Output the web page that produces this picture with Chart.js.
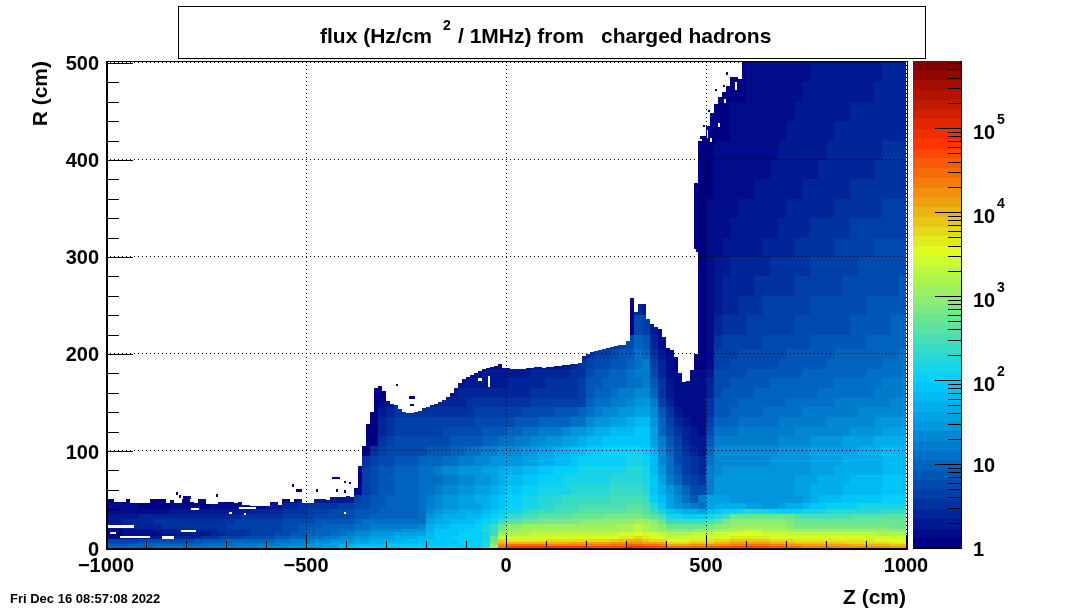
<!DOCTYPE html>
<html>
<head>
<meta charset="utf-8">
<title>flux from charged hadrons</title>
<script src="https://cdn.jsdelivr.net/npm/chart.js@4/dist/chart.umd.min.js"></script>
<style>
  body { margin: 0; background: #fff; }
  canvas { display: block; }
</style>
</head>
<body>
<canvas id="fluxChart" width="1068" height="610"></canvas>
<script>
// Z columns: 20 cm wide, starting at zStart. Each group of ten chars spans 200 cm.
const zStart = -1000;
const zStep = 20;

// lower edge of every R row, last entry closes the top row
const rEdges = [0, 2, 4, 6, 9, 12, 16, 20, 25, 30, 35, 40, 46, 55, 65, 75, 85, 95, 105, 115, 125, 135, 145, 155, 165, 175, 185, 195, 205, 220, 240, 260, 280, 300, 320, 340, 360, 380, 400, 420, 440, 460, 480, 502];

// flux level per cell (one of the 50 palette levels), bottom row first, '.' = no entry
const levelChars = '0123456789abcdefghijklmnopqrstuvwxyzABCDEFGHIJKLMN';
const fluxRows = [
  '8888889999 999aaaaaab bbbccccdde fgggggghhh hhhhhhhjqC EFFFFFFFFF EEEEEFFFEE CCCCCDDEEE EEEDDCCBBB BBAAAAAAzz',
  '7778888888 8899999aaa aabbbccdde efffgggggg ggghhhhjpA CCCCCBBBBB BBBCCDDCCB zzzAAAAABB CCCBBAAzzz zzzyyyyyxx',
  '6666777777 7788889999 9aaabbccdd deeeeffffg gggghhhjoy yyyyyyyyzz zzzAAAAzzz wwwxxxyyzz zzzyyyxxxx xxwwwwwwvv',
  '5555666666 6777788888 899aaabbcc cddeeeefff gggghhhinw vvvvvwwwww wwwxxyyxww uuuvvvwwxx xxxwwwvvvv vvvvvvuuuu',
  '1111222233 3344555666 6778899aab bccdddeeef fgghhhhint ttttuuuuuu uuuuvvwvuu ssttttuuvv vvvuuuuuuu uuuuuttttt',
  '0011111222 2223344455 5667788899 abbcccdddd fggghhhikq rrrsssssss ssssttutts rrrsssttuu uutttsssss ssssssrrrr',
  '0011112223 3333444455 5566778889 9aabbbbccc egggghhjko qqrrrrrrrr rrrrrrsrqq ppppqqrrrs ssrrrrqqqq qqqqqqqqpp',
  '2233333444 4444455555 5566777888 899aaaaaab effggghikn ppqqqqqqqq qqqqrrsrqp nnnnnoppqq qqqqqpoooo oooooooonn',
  '2233334444 4444445555 5566667777 7899999999 deefffghik mmnnooooop ppppppqqpn kkkkklmopp ppppponnnn nnnnnnnnnn',
  '2222333333 3333333444 4455556666 6778888889 cdeeeffghi kkllmmmmnn nnooooonml iihhhijknn nnnnnnmlll lllmmmmmmm',
  '1111111122 2222222233 3344455566 6777888889 bcddeeefgh iijkkklllm mmmmmnnmki gfeedfghhi jiihhhhiii jjjjjjjkkk',
  '1111000011 0001111111 2233444445 5667788889 abccdddefg hhiijjkkkl lllllmmljg dcba9deeee ddccdeefgg hhhhiiiiii',
  '0000000000 0000000000 1111222222 2567788889 abccddeefg hhiijjjkkk kkkllllkhf db97adddcc cccccccdef ffggggghhh',
  '.......... .......... .......... 0156778889 9abbccddef gghhiiiijj jjjkkkkjge ca866acccc ccccccddee eefffffggg',
  '.......... .......... .......... 0056778889 99aabbccde ffgghhhiii iiijjjjigd a8654acccc ccccccddde eeeffffggg',
  '.......... .......... .......... 0056778889 9abbcccdde eeffgghhhi iiiiijjifc 97543abccc ccccccccdd deeeeeefff',
  '.......... .......... .......... 0045667778 8899aabbcc ccddeeffgh hhhhhiihfb 965439bbbb bbbcccccdd ddeeeeefff',
  '.......... .......... .......... 0004566666 7778899aab bbccddeeff gghhhhhgeb 864328bbbb bbbbccccdd ddddeeefff',
  '.......... .......... .......... 0000456666 6667777889 9aabbccdde ffggggggda 753227aaaa aaaabbbbcc ccddddeeee',
  '.......... .......... .......... 0000345555 5566666777 8899aaabcc deefffggd8 643216999a aaaaaabbbb bbbccccddd',
  '.......... .......... .......... 0000345555 5555556666 6777888899 bccddeffc8 5321158889 9999aaaaaa bbbbbbcccc',
  '.......... .......... .......... 0000234444 4444445555 5566667778 9abbccddb7 4211147788 8899999aaa aaaabbbbbb',
  '.......... .......... .......... 0000123333 3333344444 4445555555 899aabcca5 3111147778 8888899999 9aaaaaaabb',
  '.......... .......... .......... 0000012222 2222333333 3334444445 7889aabb84 2111136777 7888888889 999999aaaa',
  '.......... .......... .......... 0000011111 1122222222 3333344445 7788899a74 2111136677 7778888888 8999999aaa',
  '.......... .......... .......... 0000000000 0011111222 2223333344 677889aa63 1111126666 7777777888 8888899999',
  '.......... .......... .......... 0000000000 0000001111 1112222234 5667789a53 1000015566 6666777777 8888888999',
  '.......... .......... .......... 0000000000 0000000000 0001111113 4556779842 1000015556 6666677777 7888888889',
  '.......... .......... .......... .......... .......... .......... 2334568731 0000014555 5566666677 7777788888',
  '.......... .......... .......... .......... .......... .......... 0000006521 0000013444 5555556666 6667777788',
  '.......... .......... .......... .......... .......... .......... 0000003200 0000012334 4455555566 6666677777',
  '.......... .......... .......... .......... .......... .......... .......... 0000012333 3444445555 5566666667',
  '.......... .......... .......... .......... .......... .......... .......... 0000012233 3334444455 5555666666',
  '.......... .......... .......... .......... .......... .......... .......... 0000011222 2233334444 4555556666',
  '.......... .......... .......... .......... .......... .......... .......... 0000011122 2222333344 4445555555',
  '.......... .......... .......... .......... .......... .......... .......... 0000011112 2222233333 3444444555',
  '.......... .......... .......... .......... .......... .......... .......... 0000001111 1222222333 3334444444',
  '.......... .......... .......... .......... .......... .......... .......... 0000001111 1112222223 3333334444',
  '.......... .......... .......... .......... .......... .......... .......... 0000001111 1111222222 3333333444',
  '.......... .......... .......... .......... .......... .......... .......... 0000000011 1111122222 2333333333',
  '.......... .......... .......... .......... .......... .......... .......... 0000000011 1111112222 2223333333',
  '.......... .......... .......... .......... .......... .......... .......... 0000000000 1111111222 2222223333',
  '.......... .......... .......... .......... .......... .......... .......... 0000000000 1111111122 2222222333'
];

// highest R with an entry, one value per 10 cm of Z from -1000
const topStep = 10;
const topR = [
  51, 51, 47, 47, 47, 50, 46, 46, 46, 46,
  46, 50, 50, 50, 50, 46, 49, 46, 46, 51,
  51, 47, 46, 50, 50, 45, 45, 45, 47, 47,
  47, 47, 46, 47, 44, 44, 43, 43, 43, 43,
  43, 47, 47, 44, 51, 51, 47, 51, 51, 46,
  46, 46, 51, 51, 50, 49, 53, 53, 53, 53,
  54, 53, 62, 85, 105, 128, 140, 165, 167, 162,
  152, 148, 147, 143, 140, 139, 139, 140, 141, 144,
  145, 147, 148, 150, 153, 156, 160, 165, 170, 174,
  176, 178, 180, 182, 184, 186, 187, 188, 190, 186,
  186, 185, 184, 185, 185, 186, 186, 187, 187, 186,
  187, 187, 188, 188, 189, 189, 190, 190, 191, 198,
  200, 202, 203, 204, 205, 206, 207, 208, 209, 209,
  213, 258, 243, 252, 252, 236, 231, 228, 226, 218,
  206, 204, 197, 180, 171, 172, 183, 376, 420, 425,
  435, 448, 458, 465, 470, 476, 486, 486, 483, 502,
  502, 502, 502, 502, 502, 502, 502, 502, 502, 502,
  502, 502, 502, 502, 502, 502, 502, 502, 502, 502,
  502, 502, 502, 502, 502, 502, 502, 502, 502, 502,
  502, 502, 502, 502, 502, 502, 502, 502, 502, 502
];

// isolated low-flux bins above the edge
const strayZ = [-826, -817, -808, -803, -798, -793, -726, -534, -525, -520, -515, -475, -435, -430, -425, -420, -405, -392, -425, -405, -275, -243, -238, -233, -240, -235, 486, 492, 505, 522, 542, 550];
const strayR = [55, 52, 51, 51, 51, 51, 53, 63, 58, 58, 58, 58, 71, 71, 71, 71, 67, 66, 58, 57, 167, 154, 154, 154, 146, 146, 422, 434, 449, 471, 475, 488];

// empty gaps inside the filled region
const gapZ0 = [-1000, -990, -965, -860, -813, -788, -692, -667, -655, -405, -45, -70, 470, 475, 530, 545, 572, 510, 502];
const gapZ1 = [-930, -975, -890, -830, -776, -767, -685, -625, -650, -400, -40, -60, 475, 480, 535, 550, 577, 515, 506];
const gapR0 = [21, 14, 10, 9.5, 16, 39, 35, 40, 34, 35, 166, 172, 200, 200, 434, 459, 472, 419, 423];
const gapR1 = [23.5, 16, 12.5, 12, 18.5, 41.5, 37, 42.5, 36, 37.5, 177, 175, 308, 305, 438, 463, 480, 423, 431];

// axis ticks
const zTicks = [-1000, -900, -800, -700, -600, -500, -400, -300, -200, -100, 0, 100, 200, 300, 400, 500, 600, 700, 800, 900, 1000];
const rTicks = [0, 20, 40, 60, 80, 100, 120, 140, 160, 180, 200, 220, 240, 260, 280, 300, 320, 340, 360, 380, 400, 420, 440, 460, 480, 500];
const colorDecades = [1, 10, 100, 1000, 10000, 100000];
const colorMinorSteps = [2, 3, 4, 5, 6, 7, 8, 9];
const colorMax = 630000;

// ROOT "pretty" palette, 50 levels
const paletteStops = [0, 0.34, 0.61, 0.84, 1];
const paletteRed = [0, 0, 0.87, 1, 0.51];
const paletteGreen = [0, 0.81, 1, 0.2, 0];
const paletteBlue = [0.51, 1, 0.12, 0, 0];
const paletteLevels = 50;

function paletteColor(level) {
  const f = level / (paletteLevels - 1);
  let i = 0;
  while (i < paletteStops.length - 2 && f > paletteStops[i + 1]) i++;
  const t = (f - paletteStops[i]) / (paletteStops[i + 1] - paletteStops[i]);
  const mix = arr => Math.round(255 * (arr[i] + (arr[i + 1] - arr[i]) * t));
  return `rgb(${mix(paletteRed)},${mix(paletteGreen)},${mix(paletteBlue)})`;
}
const palette = Array.from({ length: paletteLevels }, (_, l) => paletteColor(l));

// turn the rows into cells, cut at the top edge of each 10 cm column
const logMax = Math.log10(colorMax);
const cells = [];
fluxRows.forEach((row, r) => {
  const chars = row.replace(/ /g, '');
  for (let j = 0; j < topR.length; j++) {
    const ch = chars[Math.floor(j * topStep / zStep)];
    if (!ch || ch === '.') continue;
    if (rEdges[r] >= topR[j]) continue;
    const level = levelChars.indexOf(ch);
    cells.push({
      x: zStart + j * topStep,
      y: rEdges[r],
      x2: zStart + (j + 1) * topStep,
      y2: Math.min(rEdges[r + 1], topR[j]),
      flux: Math.pow(10, (level + 0.5) / paletteLevels * logMax)
    });
  }
});

function fluxLevel(flux) {
  return Math.min(paletteLevels - 1, Math.floor(Math.log10(flux) / logMax * paletteLevels));
}

const boldFont = size => `bold ${size}px "Liberation Sans", Arial, sans-serif`;

// draws the bins through the chart scales
const heatPlugin = {
  id: 'heatCells',
  beforeDatasetsDraw(chart) {
    const { ctx, chartArea, scales: { x, y } } = chart;
    const rect = (z0, r0, z1, r1) => {
      const px0 = Math.round(x.getPixelForValue(z0));
      const px1 = Math.round(x.getPixelForValue(z1));
      const py0 = Math.round(y.getPixelForValue(r0));
      const py1 = Math.round(y.getPixelForValue(r1));
      ctx.fillRect(px0, py1, Math.max(1, px1 - px0), Math.max(1, py0 - py1));
    };
    ctx.save();
    ctx.beginPath();
    ctx.rect(chartArea.left, chartArea.top, chartArea.width, chartArea.height);
    ctx.clip();
    chart.data.datasets[0].data.forEach(c => {
      ctx.fillStyle = palette[fluxLevel(c.flux)];
      rect(c.x, c.y, c.x2, c.y2);
    });
    ctx.fillStyle = '#fff';
    gapZ0.forEach((z, i) => rect(z, gapR0[i], gapZ1[i], gapR1[i]));
    ctx.fillStyle = palette[0];
    strayZ.forEach((z, i) => rect(z, strayR[i], z + 5, strayR[i] + 2.5));
    ctx.restore();
  }
};

// frame, inward ticks, colour bar, title box, stamp
const decorPlugin = {
  id: 'rootDecor',
  afterDraw(chart) {
    const { ctx, chartArea: a, scales: { x, y, y1 } } = chart;
    ctx.save();
    ctx.fillStyle = '#000';
    zTicks.forEach(v => {
      const len = v % 500 === 0 ? 13 : 7;
      ctx.fillRect(Math.round(x.getPixelForValue(v)), a.bottom - len, 1, len);
    });
    rTicks.forEach(v => {
      const len = v % 100 === 0 ? 27 : 13;
      ctx.fillRect(a.left, Math.round(y.getPixelForValue(v)), len, 1);
    });
    ctx.fillRect(a.left, a.top, 2, a.height);
    ctx.fillRect(a.left, a.bottom, a.width + 2, 2);
    ctx.fillRect(a.left, a.top, a.width + 2, 1);
    ctx.fillRect(a.right + 1, a.top, 1, a.height);

    // colour bar
    const barL = 913, barR = 961;
    for (let l = 0; l < paletteLevels; l++) {
      const top = Math.round(y1.getPixelForValue(Math.pow(10, (l + 1) / paletteLevels * logMax)));
      const bot = Math.round(y1.getPixelForValue(Math.pow(10, l / paletteLevels * logMax)));
      ctx.fillStyle = palette[l];
      ctx.fillRect(barL, top, barR - barL, bot - top);
    }
    ctx.fillStyle = '#000';
    ctx.fillRect(barR, a.top, 1, a.height);
    ctx.fillRect(barL, a.bottom, barR - barL + 1, 1);
    colorDecades.forEach(d => {
      const py = Math.round(y1.getPixelForValue(d));
      ctx.fillRect(barR - 26, py, 26, 1);
      colorMinorSteps.forEach(m => {
        if (d * m > colorMax) return;
        ctx.fillRect(barR - 13, Math.round(y1.getPixelForValue(d * m)), 13, 1);
      });
      const exp = Math.round(Math.log10(d));
      ctx.textAlign = 'left';
      ctx.textBaseline = 'alphabetic';
      ctx.font = boldFont(20);
      if (exp === 0) {
        ctx.fillText('1', 973, py + 8);
      } else if (exp === 1) {
        ctx.fillText('10', 973, py + 8);
      } else {
        ctx.fillText('10', 973, py + 11);
        ctx.font = boldFont(14);
        ctx.fillText(String(exp), 997, py - 4);
      }
    });

    // title box
    ctx.fillStyle = '#fff';
    ctx.fillRect(178, 6, 748, 53);
    ctx.strokeStyle = '#000';
    ctx.lineWidth = 1;
    ctx.strokeRect(178.5, 6.5, 747, 52);
    ctx.fillStyle = '#000';
    ctx.font = boldFont(21);
    ctx.fillText('flux (Hz/cm', 320, 43);
    ctx.fillText('/ 1MHz) from', 458, 43);
    ctx.fillText('charged hadrons', 601, 43);
    ctx.font = boldFont(14);
    ctx.fillText('2', 443, 30);

    ctx.font = boldFont(13);
    ctx.fillText('Fri Dec 16 08:57:08 2022', 10, 603);
    ctx.restore();
  }
};

new Chart(document.getElementById('fluxChart'), {
  type: 'scatter',
  data: {
    datasets: [{
      label: 'flux',
      data: cells,
      pointRadius: 0,
      pointHoverRadius: 0,
      showLine: false
    }]
  },
  plugins: [heatPlugin, decorPlugin],
  options: {
    responsive: false,
    animation: false,
    events: [],
    layout: { padding: { top: 61 } },
    plugins: { legend: { display: false }, tooltip: { enabled: false } },
    scales: {
      x: {
        type: 'linear',
        min: -1000,
        max: 1000,
        afterBuildTicks: scale => { scale.ticks = zTicks.map(value => ({ value })); },
        afterFit: scale => { scale.height = 62; },
        grid: {
          z: 1,
          drawTicks: false,
          color: ctx => (ctx.tick && ctx.tick.value % 500 === 0 ? '#000' : 'rgba(0,0,0,0)')
        },
        border: { display: false, dash: [1, 3] },
        ticks: {
          autoSkip: false,
          maxRotation: 0,
          padding: 6,
          color: '#000',
          font: { family: '"Liberation Sans"', weight: 'bold', size: 20 },
          callback: v => (v % 500 === 0 ? String(v).replace('-', '\u2212') : '')
        },
        title: {
          display: true,
          text: 'Z (cm)',
          align: 'end',
          color: '#000',
          font: { family: '"Liberation Sans"', weight: 'bold', size: 21 },
          padding: { top: 0, bottom: -1 }
        }
      },
      y: {
        type: 'linear',
        min: 0,
        max: 502,
        afterBuildTicks: scale => { scale.ticks = rTicks.map(value => ({ value })); },
        afterFit: scale => { scale.width = 106; },
        grid: {
          z: 1,
          drawTicks: false,
          color: ctx => (ctx.tick && ctx.tick.value % 100 === 0 ? '#000' : 'rgba(0,0,0,0)')
        },
        border: { display: false, dash: [1, 3] },
        ticks: {
          autoSkip: false,
          padding: 7,
          labelOffset: 2,
          color: '#000',
          font: { family: '"Liberation Sans"', weight: 'bold', size: 20 },
          callback: v => (v % 100 === 0 ? String(v) : '')
        },
        title: {
          display: true,
          text: 'R (cm)',
          align: 'end',
          color: '#000',
          font: { family: '"Liberation Sans"', weight: 'bold', size: 21 },
          padding: { top: 29, bottom: 0 }
        }
      },
      y1: {
        type: 'logarithmic',
        position: 'right',
        min: 1,
        max: colorMax,
        afterFit: scale => { scale.width = 162; },
        grid: { display: false },
        border: { display: false },
        ticks: { display: false }
      }
    }
  }
});
</script>
</body>
</html>
